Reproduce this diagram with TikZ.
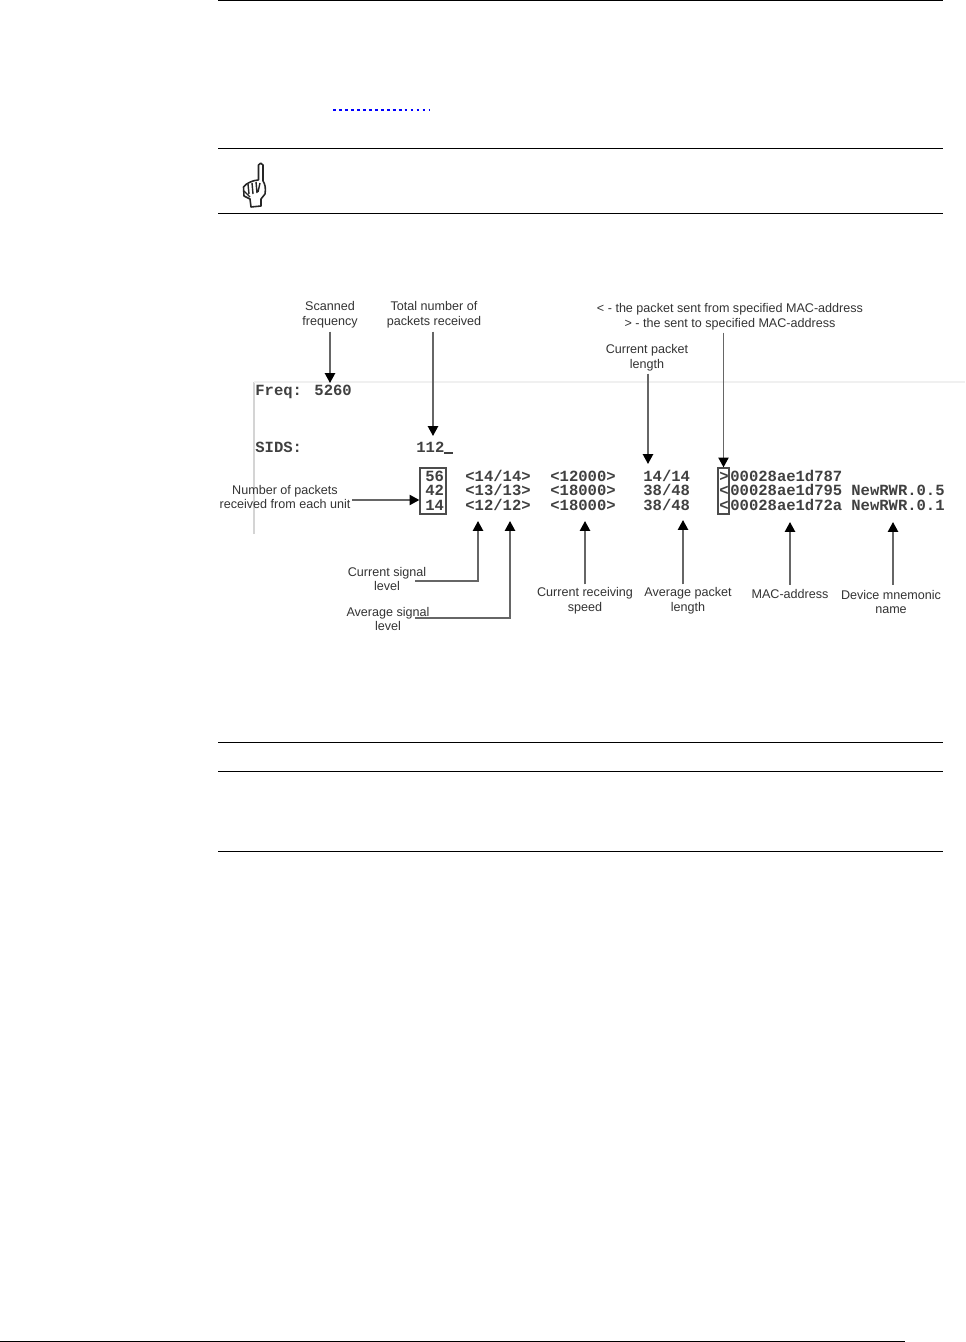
\documentclass[tikz,border=0pt]{standalone}
\usepackage{fontspec}
\setmainfont{Liberation Sans}
\newfontfamily\termfont[BoldFont={Liberation Mono Bold}]{Liberation Mono}
\usetikzlibrary{arrows.meta,positioning}
\tikzset{
  rulew/.style={line width=0.5pt,black},
  lbl/.style={inner sep=0pt,align=center,font=\fontsize{7.16}{8.5}\selectfont,text=black!80},
  term/.style={inner sep=0pt,anchor=base west,font=\termfont\bfseries\fontsize{8.85}{10}\selectfont,text=black!75},
  ptr/.style={line width=0.95pt,black!60,-{Triangle[length=5.6pt,width=5.8pt,black]}},
  markbox/.style={draw=black!70,line width=0.7pt,inner sep=0pt,minimum height=26.2pt}
}
\begin{document}
\begin{tikzpicture}[x=0.02cm,y=-0.02cm]
\useasboundingbox (0,0) rectangle (965,1342);
% page rules
\draw [rulew] (218,0.5) -- (943,0.5);
\draw [rulew] (218,148) -- (943,148);
\draw [rulew] (218,213) -- (943,213);
\draw [rulew] (218,742) -- (943,742);
\draw [rulew] (218,771) -- (943,771);
\draw [rulew] (218,851) -- (943,851);
\draw [rulew] (0,1341) -- (905,1341);
\draw [blue,line width=1.1pt,dash pattern=on 1.6pt off 1.8pt] (333,110) -- (429,110);
% hand
\draw [black!85,line width=0.9pt,line join=round,fill=white] (258.5,180) -- (258.5,165) .. controls (259,162.5) and (262.5,162.5) .. (263,165)
  -- (263,181) .. controls (265,184) and (266,188) .. (265,194) -- (261,199) -- (261,206) -- (251,207) -- (250,199) -- (244,196) -- (243.5,187)
  .. controls (246,183) and (254,180) .. (258.5,180);
\draw [black!85,line width=0.8pt] (248,184) -- (249,194) (252,183) -- (253,194) (256,182) -- (257,193) (260,183) -- (258,192) (244,191) -- (250,197);
% faint screenshot border
\draw [black!17,line width=0.7pt] (254,534) -- (254,382);
\draw [black!6,line width=0.6pt] (254,382) -- (965,382);
% screen text
\node [term] (freq) at (255,395) {Freq: 5260};
\node [term] (sids) at (255,452) {SIDS:};
\node [term] (total) at (416,452) {112\rule[-1.2pt]{5pt}{1.2pt}};
\node [term] (cnta) at (425,481) {56};
\node [term] (cntb) at (425,495) {42};
\node [term] (cntc) at (425,510) {14};
\node [term] (siga) at (465,481) {<14/14>};
\node [term] (sigb) at (465,495) {<13/13>};
\node [term] (sigc) at (465,510) {<12/12>};
\node [term] (spda) at (550,481) {<12000>};
\node [term] (spdb) at (550,495) {<18000>};
\node [term] (spdc) at (550,510) {<18000>};
\node [term] (lena) at (643,481) {14/14};
\node [term] (lenb) at (643,495) {38/48};
\node [term] (lenc) at (643,510) {38/48};
\node [term] (dira) at (719,481) {>};
\node [term] (dirb) at (719,495) {<};
\node [term] (dirc) at (719,510) {<};
\node [term] (maca) at (730,481) {00028ae1d787};
\node [term] (macb) at (730,495) {00028ae1d795};
\node [term] (macc) at (730,510) {00028ae1d72a};
\node [term] (devb) at (851,495) {NewRWR.0.5};
\node [term] (devc) at (851,510) {NewRWR.0.1};
\node [markbox,minimum width=14.8pt] (cntbox) at (433,491) {};
\node [markbox,minimum width=6.2pt] (dirbox) at (723.5,491) {};
% labels
\node [lbl] (scanlbl) at (330,315) {Scanned\\frequency};
\node [lbl] (totallbl) at (434,315) {Total number of\\packets received};
\node [lbl] (dirlbl) at (730,317) {< - the packet sent from specified MAC-address\\> - the sent to specified MAC-address};
\node [lbl] (curlenlbl) at (647,358) {Current packet\\length};
\node [lbl] (cntlbl) at (285,497) {Number of packets\\received from each unit};
\node [lbl] (cursiglbl) at (387,579) {Current signal\\level};
\node [lbl] (avgsiglbl) at (388,619) {Average signal\\level};
\node [lbl] (spdlbl) at (585,601) {Current receiving\\speed};
\node [lbl] (avglenlbl) at (688,601) {Average packet\\length};
\node [lbl] (maclbl) at (790,593.5) {MAC-address};
\node [lbl] (devlbl) at (891,602) {Device mnemonic\\name};
% arrow ends
\coordinate (scantip) at (330,383);
\coordinate (totaltip) at (433,436);
\coordinate (curlentip) at (648,464);
\coordinate (cntfrom) at (352,500);
\coordinate (cnttip) at (cntbox.west |- cntfrom);
\coordinate (cursigfrom) at (415,581);
\coordinate (cursigtip) at (478,521);
\coordinate (avgsigfrom) at (415,618);
\coordinate (avgsigtip) at (510,521);
\coordinate (spdtip) at (585,521);
\coordinate (avglentip) at (683,520);
\coordinate (mactip) at (790,522);
\coordinate (devtip) at (893,522);
% arrows
\draw [ptr] (scanlbl.south) ++(0,3) -- (scantip);
\draw [ptr] (totaltip |- totallbl.south) ++(0,3) -- (totaltip);
\draw [ptr] (dirbox.north |- dirlbl.south) ++(0,2) -- (dirbox.north);
\draw [ptr] (curlentip |- curlenlbl.south) ++(0,2) -- (curlentip);
\draw [ptr] (cntfrom) -- (cnttip);
\draw [ptr] (cursigfrom) -| (cursigtip);
\draw [ptr] (avgsigfrom) -| (avgsigtip);
\draw [ptr] (spdtip |- spdlbl.north) ++(0,-3) -- (spdtip);
\draw [ptr] (avglentip |- avglenlbl.north) ++(0,-3) -- (avglentip);
\draw [ptr] (mactip |- maclbl.north) ++(0,-4) -- (mactip);
\draw [ptr] (devtip |- devlbl.north) ++(0,-5) -- (devtip);
\end{tikzpicture}
\end{document}
